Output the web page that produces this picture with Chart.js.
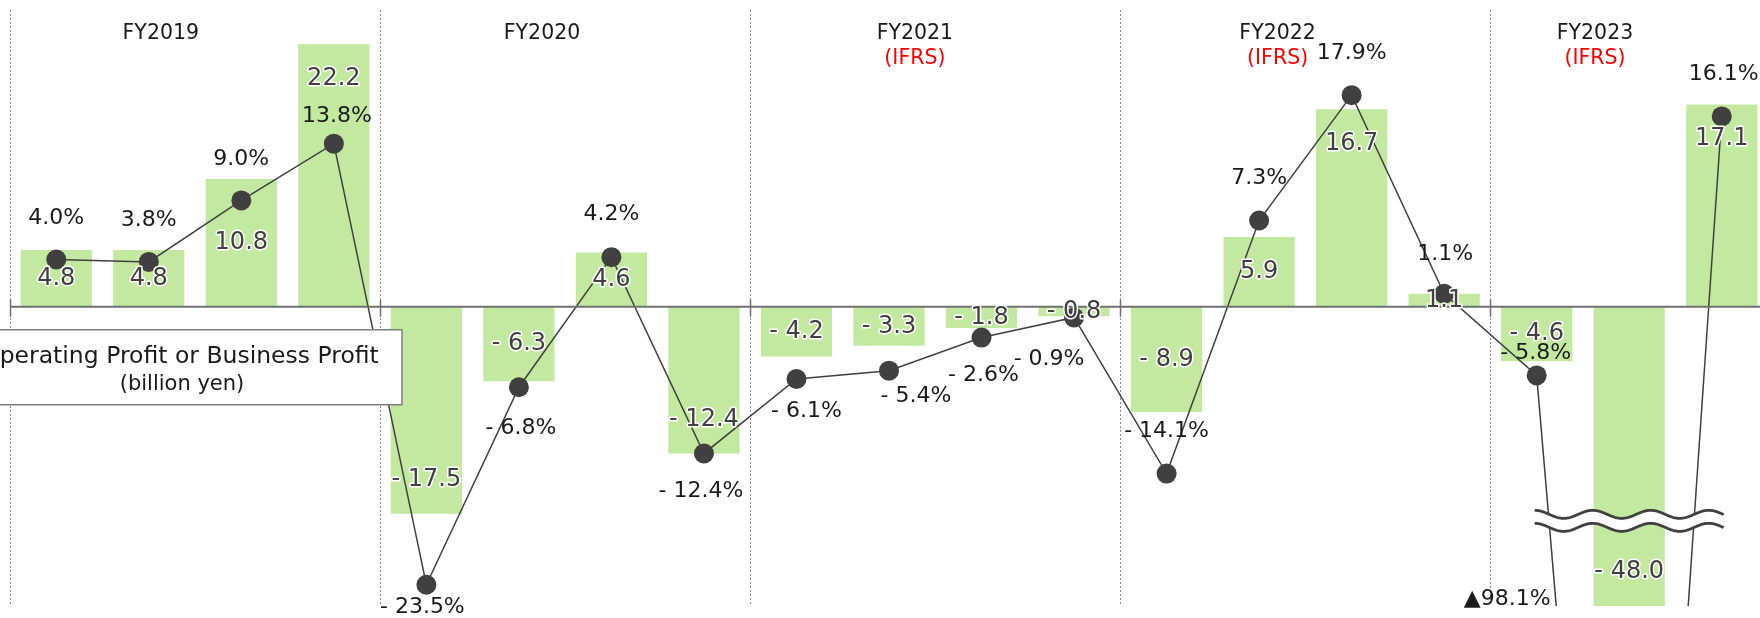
<!DOCTYPE html>
<html>
<head>
<meta charset="utf-8">
<script src="https://cdn.jsdelivr.net/npm/chart.js@4.4.1/dist/chart.umd.min.js"></script>
<style>
  html, body { margin: 0; padding: 0; background: #fff; overflow: hidden; }
  #wrap { width: 1778px; height: 618px; position: relative; }
</style>
</head>
<body>
<div id="wrap"><canvas id="chart"></canvas></div>
<script>
// quarters FY2019 Q1 .. FY2023 Q3
const quarters = ['1Q', '2Q', '3Q', '4Q', '1Q', '2Q', '3Q', '4Q', '1Q', '2Q', '3Q', '4Q',
  '1Q', '2Q', '3Q', '4Q', '1Q', '2Q', '3Q'];
const fiscalYears = ['FY2019', 'FY2020', 'FY2021', 'FY2022', 'FY2023'];
const ifrsYears = [false, false, true, true, true];

// operating / business profit (billion yen)
const profit = [4.8, 4.8, 10.8, 22.2, -17.5, -6.3, 4.6, -12.4, -4.2, -3.3, -1.8, -0.8,
  -8.9, 5.9, 16.7, 1.1, -4.6, -48.0, 17.1];
// profit margin (%)
const margin = [4.0, 3.8, 9.0, 13.8, -23.5, -6.8, 4.2, -12.4, -6.1, -5.4, -2.6, -0.9,
  -14.1, 7.3, 17.9, 1.1, -5.8, -98.1, 16.1];

const seriesTitle = ['Operating Profit or Business Profit', '(billion yen)'];

// layout bits (not data)
const headerAt = [1.63, 1.75, 1.78, 1.7, 1.13];  // in quarters from the year start
const pctDx = [0, 0, 0, 3, -4, 2, 0, -3, 10, 27, 2, -25, 0, 0, 0, 1, -1, -122, 2];
const pctDy = [-41, -42, -41, -27, 23, 41, -43, 38, 32, 26, 38, 42, -42, -42, -42, -40, -22, 0, -42];
const breakAt = -18.1;

const FONT = '"DejaVu Sans", Verdana, sans-serif';

function fmt(v) {
  return (v < 0 ? '- ' : '') + Math.abs(v).toFixed(1);
}

const decor = {
  id: 'decor',
  beforeDatasetsDraw(chart) {
    const { ctx, chartArea: a, scales: { x } } = chart;
    const step = x.getPixelForValue(1) - x.getPixelForValue(0);
    ctx.save();
    ctx.strokeStyle = '#8c8c8c';
    ctx.lineWidth = 1;
    ctx.setLineDash([2, 2]);
    fiscalYears.forEach((fy, k) => {
      const px = Math.round(x.getPixelForValue(k * 4) - step / 2) + 0.5;
      ctx.beginPath();
      ctx.moveTo(px, a.top);
      ctx.lineTo(px, a.bottom - 2);
      ctx.stroke();
    });
    ctx.setLineDash([]);
    // year headers
    ctx.textAlign = 'center';
    ctx.textBaseline = 'middle';
    ctx.font = '20.5px ' + FONT;
    fiscalYears.forEach((fy, k) => {
      const cx = x.getPixelForValue(k * 4) - step / 2 + headerAt[k] * step;
      ctx.fillStyle = '#1a1a1a';
      ctx.fillText(fy, cx, a.top + 24);
      if (ifrsYears[k]) {
        ctx.fillStyle = '#ff0000';
        ctx.fillText('(IFRS)', cx, a.top + 49);
      }
    });
    ctx.restore();
  },
  afterDatasetsDraw(chart) {
    const { ctx, chartArea: a, scales: { x, y } } = chart;
    const step = x.getPixelForValue(1) - x.getPixelForValue(0);
    const y0 = y.getPixelForValue(0);
    ctx.save();

    // zero line with small ticks at year dividers
    ctx.strokeStyle = '#707070';
    ctx.lineWidth = 2;
    ctx.beginPath();
    ctx.moveTo(a.left, y0);
    ctx.lineTo(a.right, y0);
    ctx.stroke();
    ctx.lineWidth = 1.5;
    fiscalYears.forEach((fy, k) => {
      const px = Math.round(x.getPixelForValue(k * 4) - step / 2) + 0.5;
      ctx.beginPath();
      ctx.moveTo(px, y0 - 7);
      ctx.lineTo(px, y0 + 10);
      ctx.stroke();
    });

    // axis break mark
    const yb = y.getPixelForValue(breakAt);
    const bx0 = x.getPixelForValue(16) - 2;
    const bx1 = x.getPixelForValue(18) + 2;
    const waveY = (px, off) => yb + off - 4 * Math.cos((px - bx0) / 58 * 2 * Math.PI);
    ctx.beginPath();
    for (let px = bx0; px <= bx1; px++) ctx.lineTo(px, waveY(px, -6.5));
    for (let px = bx1; px >= bx0; px--) ctx.lineTo(px, waveY(px, 6.5));
    ctx.closePath();
    ctx.fillStyle = '#ffffff';
    ctx.fill();
    ctx.strokeStyle = '#404040';
    ctx.lineWidth = 2.8;
    [-6.5, 6.5].forEach(off => {
      ctx.beginPath();
      for (let px = bx0; px <= bx1; px++) ctx.lineTo(px, waveY(px, off));
      ctx.stroke();
    });

    // bar value labels
    ctx.textAlign = 'center';
    ctx.textBaseline = 'middle';
    ctx.font = '24px ' + FONT;
    ctx.lineJoin = 'round';
    profit.forEach((v, i) => {
      const cx = x.getPixelForValue(i);
      let end = y.getPixelForValue(v);
      end = Math.min(Math.max(end, a.top), a.bottom);
      let ly;
      if (Math.abs(v) >= 12) ly = v > 0 ? end + 34 : end - 34;
      else ly = (end + y0) / 2;
      const t = fmt(v);
      ctx.strokeStyle = '#ffffff';
      ctx.lineWidth = 3;
      ctx.strokeText(t, cx, ly);
      ctx.fillStyle = '#404040';
      ctx.fillText(t, cx, ly);
    });

    // margin labels
    ctx.font = '22px ' + FONT;
    ctx.fillStyle = '#1a1a1a';
    margin.forEach((v, i) => {
      const cx = x.getPixelForValue(i) + pctDx[i];
      const py = y.getPixelForValue(v);
      if (py > a.bottom) {
        ctx.fillText('\u25B2' + Math.abs(v).toFixed(1) + '%', cx, a.bottom - 7);
      } else {
        ctx.fillText(fmt(v) + '%', cx, py + pctDy[i]);
      }
    });

    // series title box
    const bl = a.left - 48, br = a.left + 392;
    const bt = y0 + 23, bb = y0 + 98;
    ctx.fillStyle = '#ffffff';
    ctx.fillRect(bl, bt, br - bl, bb - bt);
    ctx.strokeStyle = '#7f7f7f';
    ctx.lineWidth = 1.5;
    ctx.strokeRect(bl, bt, br - bl, bb - bt);
    const tc = a.left + 170;
    ctx.fillStyle = '#1a1a1a';
    ctx.font = '23.5px ' + FONT;
    ctx.fillText(seriesTitle[0], tc, y0 + 50);
    ctx.font = '21px ' + FONT;
    ctx.fillText(seriesTitle[1], tc + 2, y0 + 78);

    ctx.restore();
  }
};

new Chart(document.getElementById('chart'), {
  data: {
    labels: quarters,
    datasets: [
      {
        type: 'line',
        label: 'Margin',
        data: margin,
        order: 0,
        borderColor: '#404040',
        borderWidth: 1.5,
        pointRadius: 10,
        pointBackgroundColor: '#404040',
        pointBorderWidth: 0,
        tension: 0
      },
      {
        type: 'bar',
        label: 'Profit',
        data: profit,
        order: 1,
        backgroundColor: '#c3e9a0',
        categoryPercentage: 1,
        barPercentage: 0.77
      }
    ]
  },
  options: {
    responsive: true,
    maintainAspectRatio: false,
    animation: false,
    layout: { padding: { left: 6, right: 0, top: 6, bottom: 12 } },
    plugins: { legend: { display: false }, tooltip: { enabled: false } },
    scales: {
      x: { type: 'category', offset: true, display: false },
      y: { min: -25.3, max: 25.1, display: false }
    }
  },
  plugins: [decor]
});
</script>
</body>
</html>
